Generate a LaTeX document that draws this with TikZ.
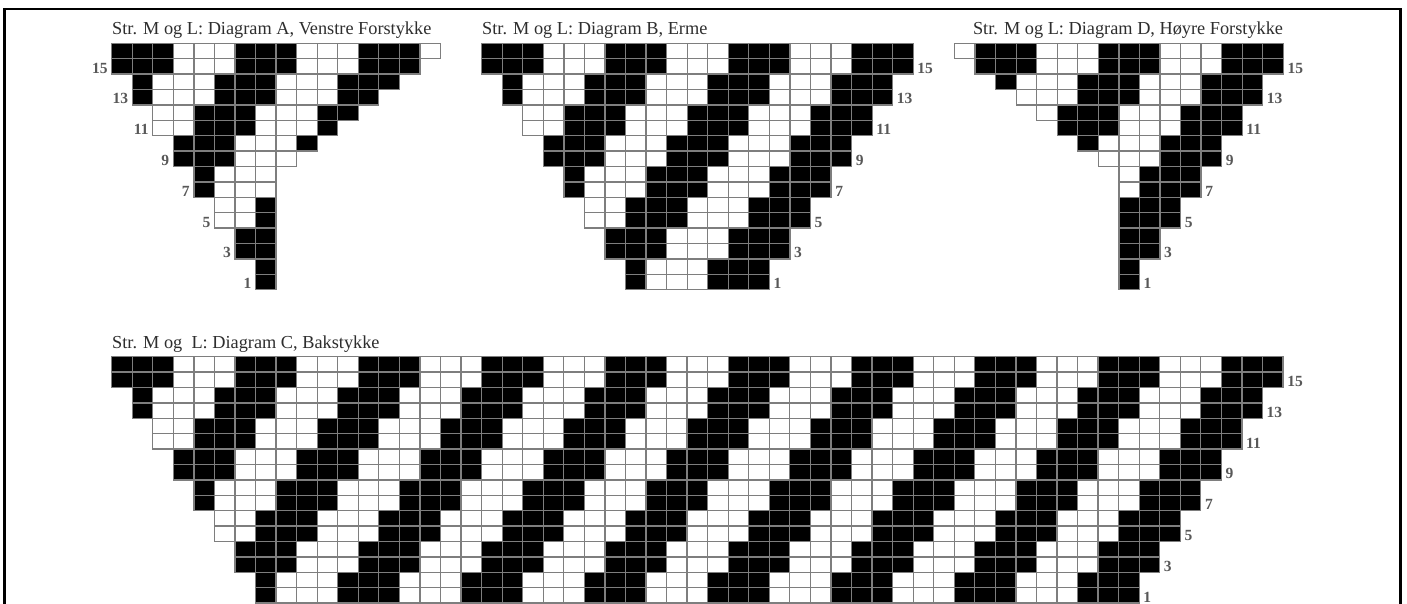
\documentclass[tikz,border=0pt]{standalone}
\usepackage{fontspec}
\setmainfont{Liberation Serif}
\definecolor{gridgray}{HTML}{7E7E7E}
\definecolor{labelgray}{HTML}{585858}
\definecolor{titlegray}{HTML}{2E2E2E}
\tikzset{
  gridline/.style={draw=gridgray, line width=1.25pt},
  knitcell/.style={fill=black},
  lbl/.style={font=\fontsize{15.5}{15.5}\selectfont\bfseries, text=labelgray, inner sep=0pt},
  charttitle/.style={font=\fontsize{18.3}{18.3}\selectfont, text=titlegray, inner sep=0pt},
  frameline/.style={draw=black, line width=2.6pt}
}
\def\cw{20.55}
\def\ch{15.4}
% #1 name, #2 x0, #3 y0, #4 start expr, #5 end expr, #6 label side (L or R)
\newcommand{\knitchart}[6]{%
  \foreach \r in {1,...,16}{%
    \pgfmathtruncatemacro\k{int((16-\r)/2)}%
    \pgfmathtruncatemacro\cs{#4}%
    \pgfmathtruncatemacro\ce{#5}%
    \pgfmathsetmacro\yt{#3+(16-\r)*\ch}%
    \foreach \c in {\cs,...,\ce}{%
      \pgfmathtruncatemacro\m{mod(\c+\k,6)}%
      \ifnum\m<3
        \fill[knitcell] ({#2+\c*\cw},{\yt}) rectangle ({#2+(\c+1)*\cw},{\yt+\ch});
      \fi
    }%
  }%
  \foreach \r in {1,...,16}{%
    \pgfmathtruncatemacro\k{int((16-\r)/2)}%
    \pgfmathtruncatemacro\cs{#4}%
    \pgfmathtruncatemacro\ce{#5}%
    \pgfmathsetmacro\yt{#3+(16-\r)*\ch}%
    \foreach \c in {\cs,...,\ce}{%
      \draw[gridline] ({#2+\c*\cw},{\yt}) rectangle ({#2+(\c+1)*\cw},{\yt+\ch});
    }%
    \ifodd\r
      \if#6L
        \node[lbl, anchor=base east] (#1lbl\r) at ({#2+\cs*\cw-4},{\yt+\ch-1}) {\r};
      \else
        \node[lbl, anchor=base west] (#1lbl\r) at ({#2+(\ce+1)*\cw+4},{\yt+\ch-1}) {\r};
      \fi
    \fi
  }%
}
\begin{document}
\begin{tikzpicture}[x=1pt,y=-1pt]
\useasboundingbox (0,0) rectangle (1407,604);
\fill[white] (0,0) rectangle (1407,604);
% frame
\draw[frameline] (4.5,606) -- (4.5,9) -- (1400.5,9) -- (1400.5,606);

% titles
\node[charttitle, anchor=base west] (titleA) at (112,35) {Str. M og L: Diagram A, Venstre Forstykke};
\node[charttitle, anchor=base west] (titleB) at (482,35) {Str. M og L: Diagram B, Erme};
\node[charttitle, anchor=base east] (titleD) at (1283.3,35) {Str. M og L: Diagram D, Høyre Forstykke};
\node[charttitle, anchor=base west] (titleC) at (112,348.3) {Str. M og\ \ L: Diagram C, Bakstykke};

% charts
\knitchart{A}{111.7}{43.3}{\k}{max(7,\r-1)}{L}
\knitchart{B}{481.7}{43.3}{\k}{20-\k}{R}
\knitchart{D}{851.75}{43.3}{min(13,21-\r)}{20-\k}{R}
\knitchart{C}{111.7}{356.7}{\k}{56-\k}{R}
\end{tikzpicture}
\end{document}
